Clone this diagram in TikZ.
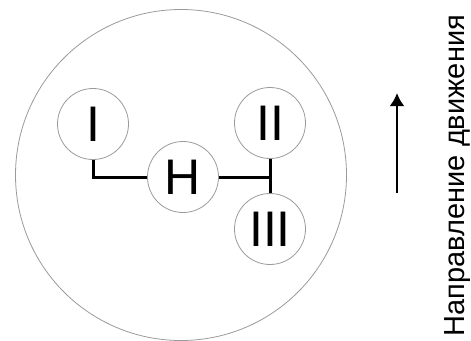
\documentclass[tikz,border=0pt]{standalone}
\usepackage{fontspec}
\setmainfont{Liberation Sans}
\usepackage{tikz}
\usetikzlibrary{arrows.meta,positioning,calc}
\definecolor{rgray}{HTML}{9A9A9A}

\begin{document}
\begin{tikzpicture}[x=1pt, y=-1pt,
    wheel/.style={circle, draw=rgray, line width=0.8pt, minimum size=71pt, inner sep=0pt, font=\fontsize{50}{56}\selectfont},
    link/.style={line width=3pt, black},
    arr/.style={-{Latex[length=13pt, width=15pt]}, line width=2.8pt}
]
    \useasboundingbox (0,0) rectangle (471,340);

    % outer ring
    \node[circle, draw=rgray, line width=0.8pt, minimum size=331pt, inner sep=0pt] (ring) at (181,175) {};

    % positions
    \node[wheel] (nI) at (93,124) {I};
    \node[wheel] (nH) at (183,177) {H};
    \node[wheel] (nII) at (270,123) {II};
    \node[wheel] (nIII) at (270,229) {III};

    % links
    \draw[link] (nI.south) |- (nH.west);
    \draw[link] (nH.east) -- (nH.east -| nII.south);
    \draw[link] (nII.south) -- (nIII.north);

    % direction
    \coordinate (tail) at (397,193);
    \coordinate (tip) at (397,93);
    \draw[arr] (tail) -- (tip);
    \node[rotate=90, anchor=base, inner sep=0pt, font=\fontsize{29}{34}\selectfont] (dir) at (464.5,175.5) {Направление движения};

\end{tikzpicture}
\end{document}
